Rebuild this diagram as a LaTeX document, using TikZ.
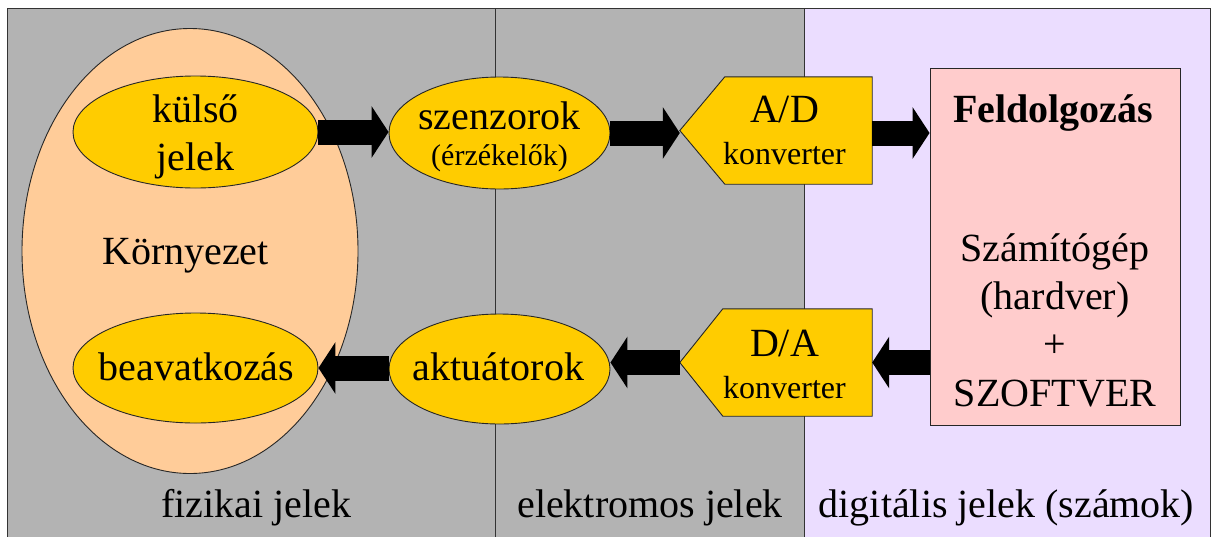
\documentclass[tikz,border=0pt]{standalone}
\usepackage{fontspec}
\setmainfont{Liberation Serif}
\usetikzlibrary{arrows.meta,shapes.geometric}

\definecolor{panelgray}{RGB}{179,179,179}
\definecolor{lavender}{RGB}{235,221,255}
\definecolor{peach}{RGB}{255,204,153}
\definecolor{gold}{RGB}{255,204,0}
\definecolor{rosebox}{RGB}{255,204,204}

\begin{document}
\begin{tikzpicture}[x=1pt,y=-1pt,
  outline/.style={draw=black!85, line width=0.9pt},
  oval/.style={ellipse, outline, fill=gold, inner sep=0pt, minimum width=245, minimum height=112},
  frameline/.style={draw=black!80, line width=0.9pt},
  big/.style={font=\fontsize{40}{48}\selectfont},
  txt/.style={inner sep=0pt, align=center, big},
  convbox/.style={inner sep=0pt, minimum width=192, minimum height=107},
  convshape/.style={outline, fill=gold},
  blockarrow/.style={line width=25pt, -{Triangle[length=17pt,width=51pt]}}
]
\useasboundingbox (0,0) rectangle (1212,536);

% signal domains
\fill[white] (0,0) rectangle (1212,536);
\fill[panelgray] (7,8) rectangle (804,545);
\fill[lavender] (804,8) rectangle (1210,545);
\draw[frameline] (7,545) -- (7,8) -- (1210,8) -- (1210,545);
\draw[frameline] (495,8) -- (495,545);
\draw[frameline] (804,8) -- (804,545);

% environment
\node[ellipse, outline, fill=peach, inner sep=0pt, minimum width=336, minimum height=445] (env) at (190,251) {};
\node[oval] (kulso) at (195.5,132) {};
\node[oval, minimum height=110] (beav) at (195.5,368) {};

% sensors and actuators
\node[oval, minimum width=221] (szenz) at (499.5,133) {};
\node[oval, minimum width=221, minimum height=110] (akt) at (499.5,369) {};

% converters
\node[convbox] (ad) at (776,130.5) {};
\draw[convshape] (ad.west) -- ([xshift=45]ad.north west) -- (ad.north east)
  -- (ad.south east) -- ([xshift=45]ad.south west) -- cycle;
\node[convbox] (da) at (776,362.5) {};
\draw[convshape] (da.west) -- ([xshift=43]da.north west) -- (da.north east)
  -- (da.south east) -- ([xshift=43]da.south west) -- cycle;

% processing unit
\node[outline, fill=rosebox, inner sep=0pt, minimum width=250, minimum height=357] (proc) at (1055,246.5) {};

% signal flow
\draw[blockarrow] (kulso.east) -- (kulso.east -| szenz.west);
\draw[blockarrow] (szenz.east) -- (szenz.east -| ad.west);
\draw[blockarrow] (ad.east |- szenz.east) -- (proc.west |- szenz.east);
\draw[blockarrow] (proc.west |- da.east) -- (da.east);
\draw[blockarrow] (da.west) -- (da.west -| akt.east);
\draw[blockarrow] (beav.east -| akt.west) -- (beav.east);

% labels
\node[txt] (kulsotxt) at (195.5,136.6) {külső\\jelek};
\node[txt, anchor=base] (envtxt) at (185.5,264) {Környezet};
\node[txt, anchor=base] (beavtxt) at (196.5,380) {beavatkozás};
\node[txt, font=\fontsize{40}{36}\selectfont] (szenztxt) at (499.5,137)
  {szenzorok\\{\fontsize{30}{36}\selectfont(érzékelők)}};
\node[txt, anchor=base] (akttxt) at (498.5,380) {aktuátorok};
\node[txt, font=\fontsize{40}{41.5}\selectfont] (adtxt) at (784.5,130.4)
  {A/D\\{\fontsize{32}{38}\selectfont konverter}};
\node[txt, font=\fontsize{40}{41.5}\selectfont] (datxt) at (784.5,364.4)
  {D/A\\{\fontsize{32}{38}\selectfont konverter}};
\node[txt, anchor=base, font=\fontsize{40}{48}\selectfont\bfseries] (proctitle) at (1053,122.4) {Feldolgozás};
\node[txt, font=\fontsize{40}{48.3}\selectfont] (proctxt) at (1055,320.2)
  {Számítógép\\(hardver)\\+\\SZOFTVER};
\node[txt, anchor=base] (phys) at (256.5,517) {fizikai jelek};
\node[txt, anchor=base] (elec) at (650,517) {elektromos jelek};
\node[txt, anchor=base] (digi) at (1006.5,517) {digitális jelek (számok)};
\end{tikzpicture}
\end{document}
